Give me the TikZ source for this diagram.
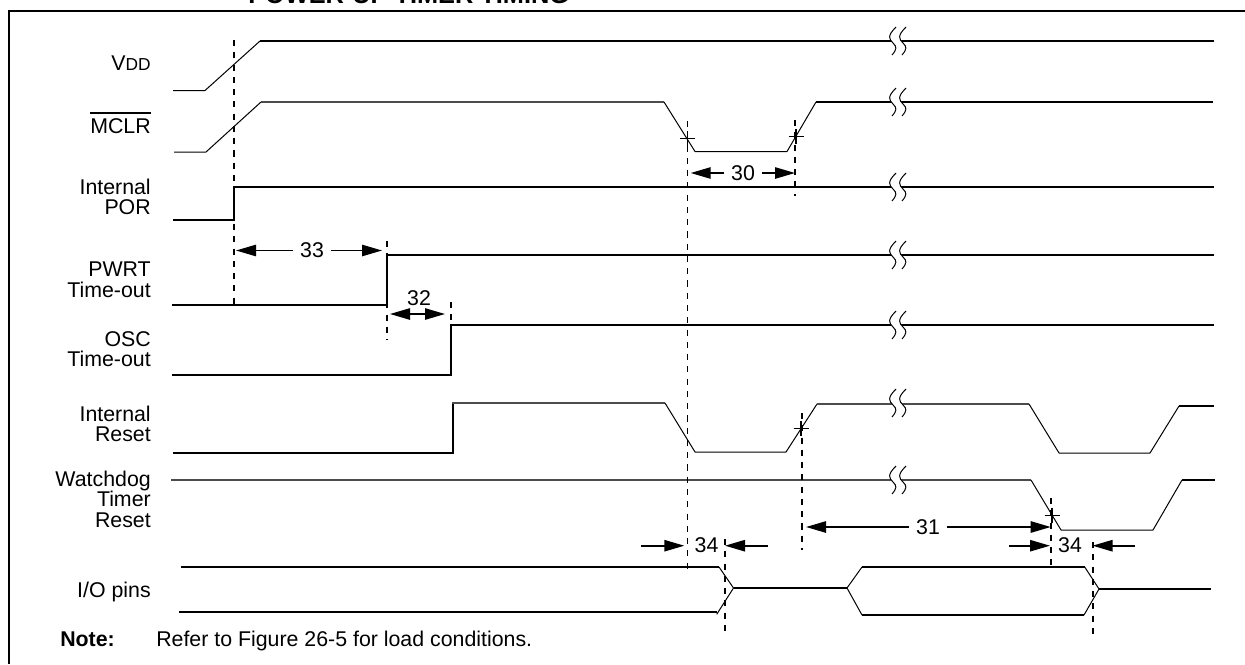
\documentclass[tikz,border=0pt]{standalone}
\usepackage{fontspec}
\setmainfont{Liberation Sans}
\usetikzlibrary{arrows.meta}

\tikzset{
  sigtext/.style={anchor=east,align=right,inner sep=0pt,font=\fontsize{16}{15.4}\selectfont},
  numtext/.style={inner sep=5pt,font=\fontsize{16}{16}\selectfont},
  lvl/.style={line width=1.5pt,line cap=butt},
  lvlgrey/.style={line width=1.1pt,draw=black!70},
  edge/.style={line width=.75pt,line join=bevel},
  guide/.style={line width=1.4pt,dash pattern=on 4.6pt off 4.6pt},
  dimline/.style={line width=1.2pt,-{Triangle[length=15pt,width=8.5pt]}},
  dimboth/.style={line width=1.2pt,{Triangle[length=15pt,width=8.5pt]}-{Triangle[length=15pt,width=8.5pt]}},
  tick/.style={line width=1.1pt}
}

\begin{document}
\begin{tikzpicture}[x=.75pt,y=-.75pt]
    \useasboundingbox (0,0) rectangle (1245,664);

    % frame and title
    \draw[line width=1.5pt] (9,664) -- (9,11) -- (1245,11);
    \node (title) [anchor=base west,inner sep=0pt,font=\fontsize{19}{19}\selectfont\bfseries] at (248,3.5) {POWER-UP TIMER TIMING};

    % signal names
    \node (lblvdd) [sigtext] at (151,63) {V{\fontsize{13}{13}\selectfont DD}};
    \node (lblmclr) [sigtext] at (151,122.5) {\vbox{\hrule height 1.4pt \kern 3.4pt \hbox{MCLR}}};
    \node (lblpor) [sigtext] at (151,197) {Internal\\POR};
    \node (lblpwrt) [sigtext] at (151,280) {PWRT\\Time-out};
    \node (lblosc) [sigtext] at (151,349) {OSC\\Time-out};
    \node (lblrst) [sigtext] at (151,424) {Internal\\Reset};
    \node (lblwdt) [sigtext] at (151,499) {Watchdog\\Timer\\Reset};
    \node (lblio) [sigtext] at (151,592) {I/O pins};

    % note
    \node (notehead) [anchor=base west,inner sep=0pt,font=\fontsize{16}{16}\selectfont\bfseries] at (60,646.5) {Note:};
    \node (notetext) [anchor=base west,inner sep=0pt,font=\fontsize{16}{16}\selectfont] at (156,646.5) {Refer to Figure 26-5 for load conditions.};

    % waveforms
    \draw[edge] (173,90.5) -- (205,90.5) -- (260,41);
    \draw[lvl] (260,41) -- (1214,41);
    \draw[edge] (174,152) -- (206,152) -- (261,102);
    \draw[lvlgrey] (261,102) -- (664,102);
    \draw[edge] (664,102) -- (695,151.5) -- (787,151.5) -- (816,102);
    \draw[lvl] (816,102) -- (1213,102);
    \draw[lvl] (173,220) -- (234,220) -- (234,187) -- (1214,187);
    \draw[lvl] (172,305) -- (387,305) -- (387,255) -- (1214,255);
    \draw[lvl] (172,375) -- (451,375) -- (451,325) -- (1214,325);

    \draw[lvl] (173,453) -- (452.5,453) -- (452.5,403);
    \draw[lvlgrey] (452,403) -- (665,403);
    \draw[edge] (665,403) -- (695,452) -- (786,452) -- (817,404);
    \draw[lvlgrey] (817,404) -- (1029,404);
    \draw[edge] (1029,404) -- (1059,453) -- (1150,453) -- (1179,406);
    \draw[lvl] (1179,406) -- (1214,406);

    \draw[lvlgrey] (171,480) -- (1031,480);
    \draw[edge] (1031,480) -- (1061,530) -- (1153,530) -- (1182,480);
    \draw[lvl] (1182,480) -- (1215,480);

    \draw[lvl] (181,567) -- (719,567);
    \draw[edge] (719,567) -- (733.5,588) -- (716.7,614.3);
    \draw[lvl] (179,612) -- (717.3,612);
    \draw[lvl] (733.5,588) -- (847,588);
    \draw[edge] (862,567) -- (847,588) -- (862,615);
    \draw[lvl] (862,567) -- (1084.7,567);
    \draw[lvl] (862,615) -- (1084,615);
    \draw[edge] (1084.7,567) -- (1099,589) -- (1084,615);
    \draw[lvl] (1099,589) -- (1211,589);

    % break marks
    \foreach \brky in {41,102,187,255,325,403,480}{
      \fill[white] (896,\brky-14) .. controls (887,\brky-5) and (889,\brky-2) .. (893,\brky+2) .. controls (897,\brky+6) and (897,\brky+8) .. (892,\brky+14)
        -- (902,\brky+14) .. controls (907,\brky+8) and (907,\brky+6) .. (903,\brky+2) .. controls (899,\brky-2) and (897,\brky-5) .. (906,\brky-14) -- cycle;
      \draw[edge] (896,\brky-14) .. controls (887,\brky-5) and (889,\brky-2) .. (893,\brky+2) .. controls (897,\brky+6) and (897,\brky+8) .. (892,\brky+14);
      \draw[edge] (906,\brky-14) .. controls (897,\brky-5) and (899,\brky-2) .. (903,\brky+2) .. controls (907,\brky+6) and (907,\brky+8) .. (902,\brky+14);
    }

    % dashed guides
    \draw[guide] (234,40) -- (234,305);
    \draw[guide] (387,241) -- (387,340);
    \draw[guide] (451,302) -- (451,325);
    \draw[guide] (687.5,121) -- (687.5,569);
    \draw[guide] (795,120) -- (795,196);
    \draw[guide] (802,413) -- (802,550);
    \draw[guide] (1050.7,498) -- (1050.7,570);
    \draw[guide] (725,539) -- (725,633);
    \draw[guide] (1092.7,542) -- (1092.7,637);

    % crossing marks
    \foreach \crx/\cry in {687.5/138.7,796/136.7,801/428.3,1052/515.7}{
      \draw[tick] (\crx-7.5,\cry) -- (\crx+7.5,\cry) (\crx,\cry-7.5) -- (\crx,\cry+7.5);
    }

    % timing parameters
    \node (t33) [numtext] at (312,250.5) {33};
    \coordinate (a33l) at (236,250.5);
    \coordinate (a33r) at (382,250.5);
    \draw[dimline] (t33) -- (a33l);
    \draw[dimline] (t33) -- (a33r);

    \node (t30) [numtext] at (743,173) {30};
    \coordinate (a30l) at (690.7,173);
    \coordinate (a30r) at (795,173);
    \draw[dimline] (t30) -- (a30l);
    \draw[dimline] (t30) -- (a30r);

    \node (t32) [numtext,inner sep=0pt] at (419,298) {32};
    \coordinate (a32l) at (390,314);
    \coordinate (a32r) at (445,314);
    \draw[dimboth] (a32l) -- (a32r);

    \node (t31) [numtext] at (928,527) {31};
    \coordinate (a31l) at (806,527);
    \coordinate (a31r) at (1050.7,527);
    \draw[dimline] (t31) -- (a31l);
    \draw[dimline] (t31) -- (a31r);

    \node (t34a) [numtext,inner sep=0pt] at (706.5,545.5) {34};
    \coordinate (s34a) at (641,545.7);
    \coordinate (e34a) at (684.3,545.7);
    \coordinate (s34b) at (767.7,545.7);
    \coordinate (e34b) at (725,545.7);
    \draw[dimline] (s34a) -- (e34a);
    \draw[dimline] (s34b) -- (e34b);

    \node (t34c) [numtext,inner sep=0pt] at (1070,545.5) {34};
    \coordinate (s34c) at (1009,545.7);
    \coordinate (e34c) at (1050,545.7);
    \coordinate (s34d) at (1135,545.7);
    \coordinate (e34d) at (1092.5,545.7);
    \draw[dimline] (s34c) -- (e34c);
    \draw[dimline] (s34d) -- (e34d);
\end{tikzpicture}
\end{document}
